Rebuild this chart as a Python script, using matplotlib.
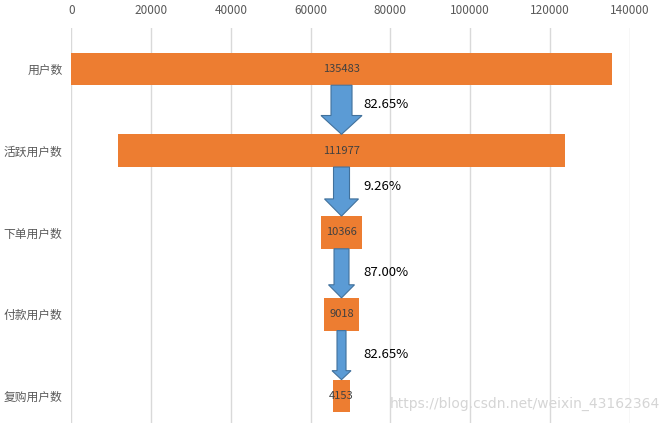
import matplotlib
matplotlib.use("Agg")
import matplotlib.pyplot as plt
from matplotlib.patches import FancyArrow

plt.rcParams['font.family'] = ['Noto Sans CJK SC', 'DejaVu Sans']

# ---- data ----
categories = ['用户数', '活跃用户数', '下单用户数', '付款用户数', '复购用户数']
values = [135483, 111977, 10366, 9018, 4153]
rate_labels = ['82.65%', '9.26%', '87.00%', '82.65%']
xticks = [0, 20000, 40000, 60000, 80000, 100000, 120000, 140000]

# ---- style ----
bar_color = '#ED7D31'
arrow_fill = '#5B9BD5'
arrow_edge = '#41719C'
bar_h = 0.40
# (shaft width, head width, head length) per arrow
arrow_styles = [(5270, 10290, 0.23), (4014, 8530, 0.21), (3760, 6520, 0.16), (2260, 4770, 0.11)]
label_dy = [-0.07, -0.06, -0.01, -0.01]

fig = plt.figure(figsize=(6.7, 4.23), dpi=100)
ax = fig.add_axes([0.1067, 0.0, 0.8329, 0.9338])

maxv = max(values)
center = maxv / 2
ypos = list(range(len(categories)))
lefts = [(maxv - v) / 2 for v in values]

ax.barh(ypos, values, left=lefts, height=bar_h, color=bar_color, zorder=2)
for y, v, l in zip(ypos, values, lefts):
    ax.text(l + v / 2, y, str(v), ha='center', va='center', fontsize=8,
            color='#404040', zorder=4)

for i, lab in enumerate(rate_labels):
    sw, hw, hl = arrow_styles[i]
    y0 = ypos[i] + bar_h / 2
    y1 = ypos[i + 1] - bar_h / 2
    arr = FancyArrow(center, y0, 0, y1 - y0, width=sw, head_width=hw, head_length=hl,
                     length_includes_head=True, facecolor=arrow_fill,
                     edgecolor=arrow_edge, linewidth=0.8, zorder=3)
    ax.add_patch(arr)
    ax.text(center + 5400, (y0 + y1) / 2 + label_dy[i], lab, ha='left', va='center',
            fontsize=9.5, color='black', zorder=4)

ax.set_xlim(0, 140000)
ax.set_ylim(4.33, -0.5)
ax.set_xticks(xticks)
ax.set_xticklabels([str(t) for t in xticks])
ax.xaxis.tick_top()
ax.tick_params(axis='x', length=0, pad=8, labelsize=8.5, labelcolor='#595959')
ax.set_yticks(ypos)
ax.set_yticklabels(categories)
ax.tick_params(axis='y', length=0, pad=6.5, labelsize=8.5, labelcolor='#595959')
ax.grid(axis='x', color='#D9D9D9', linewidth=1.0, zorder=0)
ax.set_axisbelow(True)
for s in ax.spines.values():
    s.set_visible(False)

fig.text(0.985, 0.045, 'https://blog.csdn.net/weixin_43162364', ha='right', va='center',
         fontsize=10, color='#D5D5D5', family=['DejaVu Sans'], zorder=10)

fig.savefig('out.png', dpi=100)
